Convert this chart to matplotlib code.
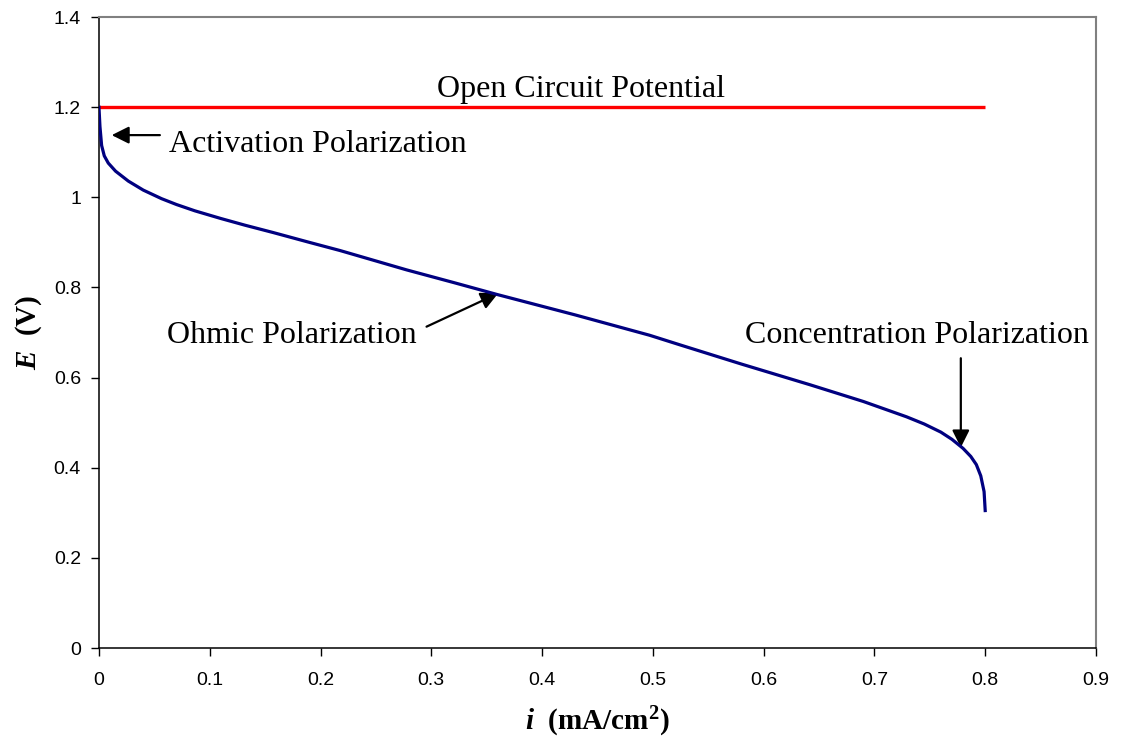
import matplotlib
matplotlib.use("Agg")
import matplotlib.pyplot as plt
from matplotlib.ticker import FuncFormatter, MultipleLocator

# Data
current = [0, 0.0009, 0.0024, 0.0048, 0.0084, 0.015, 0.0265, 0.04, 0.0565, 0.07,
           0.0866, 0.11, 0.132, 0.157, 0.19, 0.2175, 0.2777, 0.32, 0.36, 0.43,
           0.497, 0.524, 0.58, 0.642, 0.69, 0.729, 0.745, 0.76, 0.77, 0.78,
           0.787, 0.792, 0.796, 0.799, 0.8]
potential = [1.2, 1.157, 1.115, 1.092, 1.076, 1.058, 1.036, 1.016, 0.997, 0.984,
             0.970, 0.953, 0.938, 0.922, 0.900, 0.882, 0.839, 0.811, 0.784, 0.739,
             0.694, 0.673, 0.630, 0.584, 0.547, 0.513, 0.497, 0.479, 0.463, 0.443,
             0.425, 0.407, 0.382, 0.347, 0.305]
ocp_current = [0, 0.8]
ocp_potential = [1.2, 1.2]

plt.rcParams['mathtext.fontset'] = 'custom'
plt.rcParams['mathtext.rm'] = 'Liberation Serif:bold'
plt.rcParams['mathtext.it'] = 'Liberation Serif:italic:bold'
plt.rcParams['mathtext.bf'] = 'Liberation Serif:bold'
try:
    plt.rcParams['mathtext.bfit'] = 'Liberation Serif:italic:bold'
    bfit = True
except KeyError:
    bfit = False

fig = plt.figure(figsize=(11.22, 7.47), dpi=100)
ax = fig.add_axes([0.0882, 0.1325, 0.8886, 0.8447])

ax.plot(ocp_current, ocp_potential, color='#FF0000', lw=2.4, solid_capstyle='butt', zorder=3)
ax.plot(current, potential, color='#000080', lw=2.3, zorder=4,
        solid_joinstyle='round')

ax.set_xlim(0, 0.9)
ax.set_ylim(0, 1.4)
ax.xaxis.set_major_locator(MultipleLocator(0.1))
ax.yaxis.set_major_locator(MultipleLocator(0.2))
fmt = FuncFormatter(lambda v, p: ('%.1f' % v).rstrip('0').rstrip('.') if abs(v) > 1e-9 else '0')
ax.xaxis.set_major_formatter(fmt)
ax.yaxis.set_major_formatter(fmt)
ax.tick_params(axis='both', direction='out', length=6, width=1, colors='black',
               labelsize=14)
ax.tick_params(axis='x', pad=11)
ax.tick_params(axis='y', pad=7)
for lab in ax.get_xticklabels() + ax.get_yticklabels():
    lab.set_fontfamily('Liberation Sans')

for s in ['left', 'bottom']:
    ax.spines[s].set_color('black')
    ax.spines[s].set_linewidth(1.1)
for s in ['top', 'right']:
    ax.spines[s].set_color('#808080')
    ax.spines[s].set_linewidth(1.5)

ifont = r'$\mathbfit{i}$' if bfit else r'$i$'
efont = r'$\mathbfit{E}$' if bfit else r'$E$'
ax.set_xlabel(ifont + '  (mA/cm$^{2}$)', fontfamily='Liberation Serif',
              fontweight='bold', fontsize=21)
ax.set_ylabel(efont + '  (V)', fontfamily='Liberation Serif',
              fontweight='bold', fontsize=21)
ax.xaxis.set_label_coords(0.5, -0.117)
ax.yaxis.set_label_coords(-0.071, 0.5)
ax.xaxis.label.set_va('center')
ax.yaxis.label.set_va('center')

tfont = dict(fontfamily='Liberation Serif', fontsize=23, color='black')
ax.text(0.435, 1.2225, 'Open Circuit Potential', ha='center', va='baseline', **tfont)
ax.text(0.0632, 1.101, 'Activation Polarization', ha='left', va='baseline', **tfont)
ax.text(0.2867, 0.676, 'Ohmic Polarization', ha='right', va='baseline', **tfont)
ax.text(0.583, 0.676, 'Concentration Polarization', ha='left', va='baseline', **tfont)

arrow = dict(arrowstyle='-|>', mutation_scale=26, lw=1.6, color='black',
             shrinkA=0, shrinkB=0)
ax.annotate('', xy=(0.0115, 1.138), xytext=(0.055, 1.138), arrowprops=arrow)
ax.annotate('', xy=(0.3604, 0.787), xytext=(0.2957, 0.713), arrowprops=arrow)
ax.annotate('', xy=(0.778, 0.445), xytext=(0.778, 0.643), arrowprops=arrow)

fig.savefig('out.png', dpi=100)
